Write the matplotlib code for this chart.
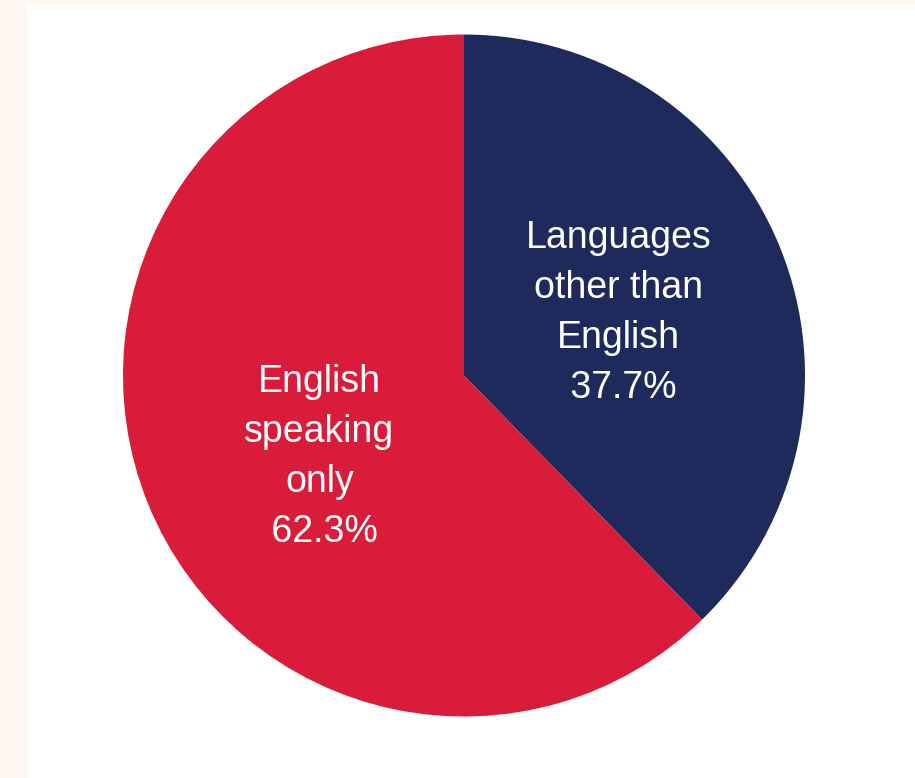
import matplotlib.pyplot as plt

# datos
categorias = ['Languages\nother than\nEnglish', 'English\nspeaking\nonly']
porcentajes = [37.7, 62.3]
colores = ['#1F2A5C', '#D81C3A']

fig = plt.figure(figsize=(9.15, 7.78), dpi=100)
fig.patch.set_facecolor('#FFF8F2')

# area blanca de fondo
fondo = fig.add_axes([28 / 915, 0, 1 - 28 / 915, 1 - 5 / 778])
fondo.set_facecolor('white')
fondo.set_xticks([])
fondo.set_yticks([])
for s in fondo.spines.values():
    s.set_visible(False)

ax = fig.add_axes([123 / 915, 1 - 716.5 / 778, 682 / 915, 682 / 778])
etiquetas = [f'{c}\n {p:.1f}%' for c, p in zip(categorias, porcentajes)]
wedges, textos = ax.pie(porcentajes, colors=colores, startangle=90, counterclock=False,
                        labels=etiquetas, labeldistance=0.49,
                        textprops=dict(color='white', fontsize=27, family='Liberation Sans',
                                       linespacing=1.5))
for t in textos:
    t.set_ha('center')
    t.set_va('center')
# pequeño ajuste de la etiqueta roja
x, y = textos[1].get_position()
textos[1].set_position((x + 0.03, y - 0.055))
ax.set_xlim(-1, 1)
ax.set_ylim(-1, 1)
ax.set_aspect('equal')
ax.axis('off')

plt.savefig('out.png', dpi=100)
